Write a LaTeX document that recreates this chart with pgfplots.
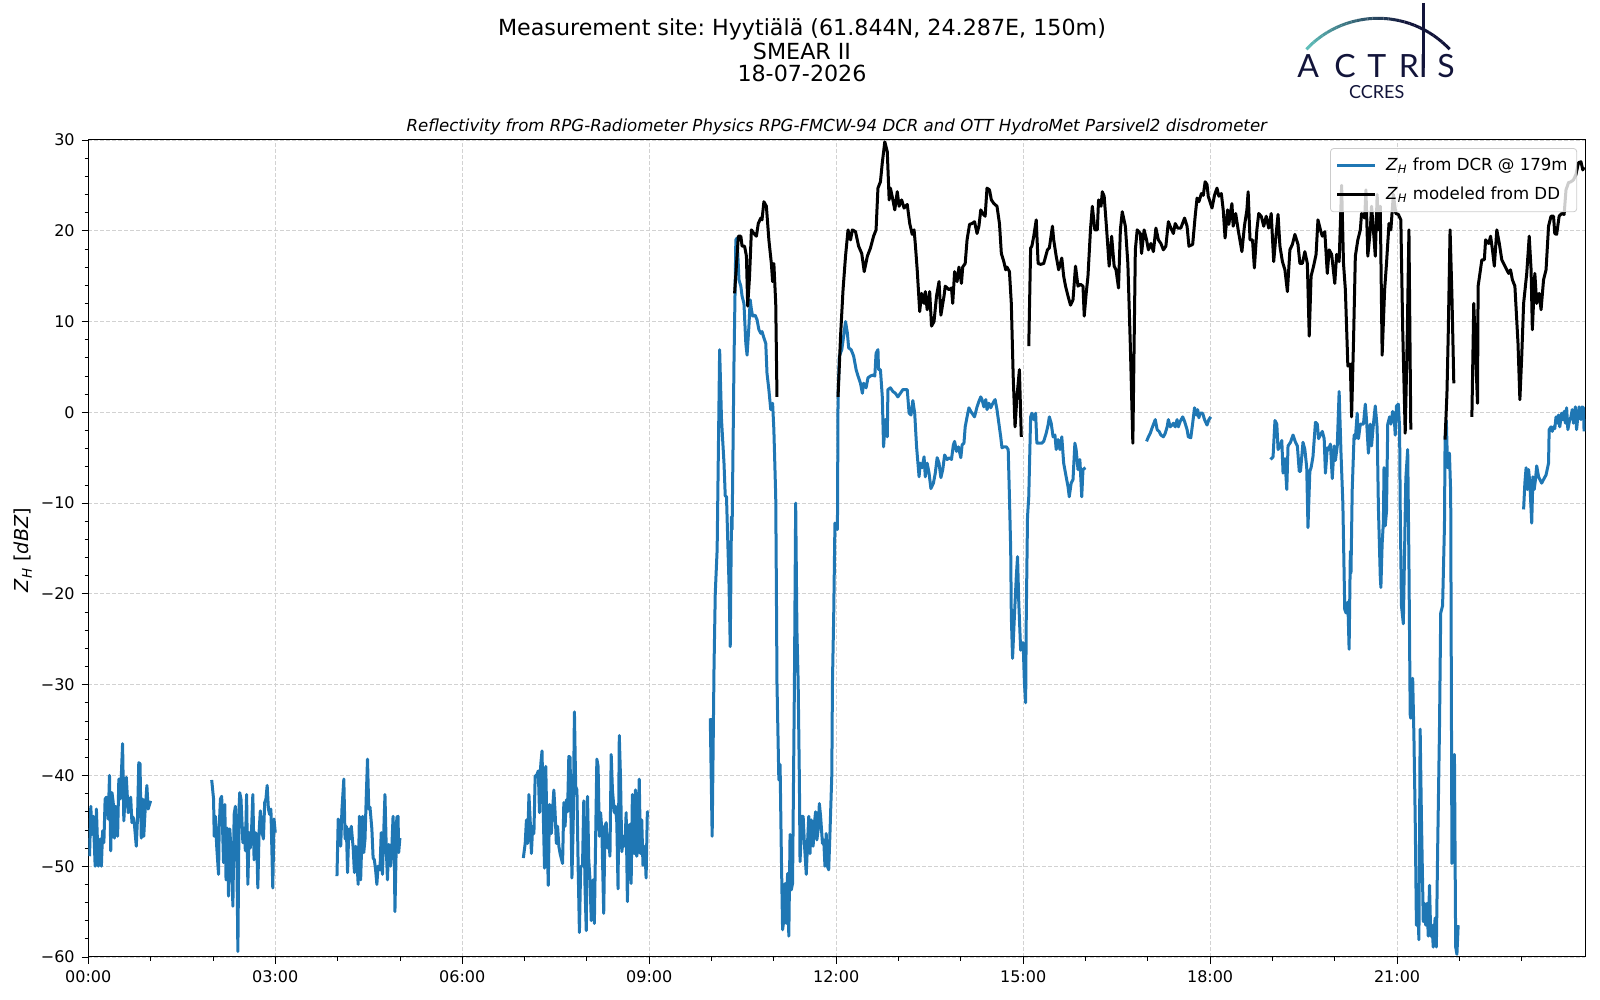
\documentclass[border=0pt]{standalone}
\usepackage{fontspec}
\setmainfont{DejaVu Sans}
\newfontfamily\logofont{Lato}
\usepackage{pgfplots}
\pgfplotsset{compat=1.18}
\definecolor{tabblue}{HTML}{1F77B4}
\definecolor{logonavy}{RGB}{18,20,58}
\definecolor{logoteal}{RGB}{95,190,185}
\newcommand{\ZH}{\textit{Z}\textsubscript{\textit{H}}}
\frenchspacing

\pgfplotstableread{
x y
0.02 -48.9
0.04 -43.4
0.06 -46.5
0.08 -44.5
0.11 -50.0
0.13 -43.7
0.16 -50.0
0.19 -47.0
0.21 -50.0
0.23 -46.1
0.25 -47.4
0.27 -42.6
0.29 -42.4
0.32 -44.8
0.34 -40.0
0.36 -48.3
0.38 -41.9
0.40 -43.0
0.42 -46.9
0.44 -43.4
0.47 -46.7
0.49 -40.4
0.51 -42.6
0.53 -40.0
0.55 -36.5
0.57 -45.0
0.59 -42.3
0.61 -40.2
0.64 -44.1
0.66 -43.7
0.68 -42.4
0.70 -45.2
0.72 -44.6
0.74 -45.4
0.77 -47.8
0.79 -44.6
0.81 -38.6
0.83 -38.7
0.85 -46.9
0.87 -42.6
0.89 -46.7
0.91 -44.1
0.94 -41.1
0.96 -43.7
1.00 -42.8
1.01 nan
1.98 -40.5
2.01 -42.6
2.02 -46.7
2.04 -44.5
2.06 -47.8
2.09 -50.9
2.10 -45.8
2.12 -42.6
2.14 -42.3
2.17 -49.6
2.19 -43.2
2.21 -51.5
2.23 -45.8
2.25 -53.3
2.27 -45.9
2.30 -49.3
2.32 -54.4
2.34 -44.3
2.36 -43.4
2.38 -46.3
2.40 -59.4
2.42 -43.4
2.43 -41.9
2.45 -42.6
2.48 -47.4
2.50 -45.8
2.52 -48.3
2.54 -42.1
2.56 -52.0
2.58 -46.3
2.60 -48.0
2.62 -45.9
2.64 -42.1
2.66 -49.3
2.68 -46.3
2.70 -46.5
2.72 -52.4
2.74 -46.3
2.76 -43.9
2.79 -46.3
2.81 -47.0
2.83 -43.0
2.85 -42.6
2.87 -41.1
2.89 -43.7
2.91 -44.3
2.93 -43.7
2.96 -52.4
2.98 -44.8
3.00 -46.3
3.01 nan
3.99 -51.1
4.01 -44.8
4.03 -45.6
4.05 -47.8
4.07 -43.7
4.10 -40.4
4.12 -47.0
4.14 -45.6
4.16 -50.7
4.18 -45.9
4.20 -47.0
4.22 -45.6
4.25 -48.0
4.27 -50.7
4.29 -47.8
4.31 -49.3
4.33 -52.0
4.35 -44.5
4.37 -51.5
4.40 -44.5
4.42 -48.5
4.44 -47.0
4.46 -42.3
4.48 -38.2
4.50 -43.7
4.52 -43.5
4.55 -45.9
4.57 -49.1
4.59 -49.3
4.61 -50.4
4.63 -52.0
4.65 -50.0
4.68 -50.4
4.70 -46.3
4.72 -50.9
4.74 -46.3
4.76 -42.1
4.78 -47.8
4.80 -51.5
4.82 -47.6
4.85 -50.0
4.87 -48.0
4.89 -44.5
4.91 -48.5
4.92 -55.0
4.95 -44.6
4.97 -44.5
4.98 -48.5
5.00 -46.9
5.01 nan
6.98 -49.1
7.01 -47.5
7.03 -44.9
7.05 -47.5
7.07 -42.1
7.09 -44.9
7.11 -48.6
7.13 -45.6
7.15 -46.4
7.17 -40.1
7.20 -39.9
7.22 -39.5
7.24 -44.1
7.26 -38.8
7.28 -37.3
7.30 -44.1
7.32 -50.2
7.34 -39.0
7.36 -46.0
7.38 -52.1
7.40 -43.2
7.43 -46.4
7.45 -43.8
7.47 -41.6
7.49 -44.1
7.51 -47.5
7.53 -45.6
7.55 -47.8
7.57 -48.6
7.61 -49.7
7.63 -43.0
7.65 -45.6
7.67 -42.7
7.69 -44.0
7.71 -37.9
7.73 -38.0
7.76 -51.3
7.78 -45.6
7.80 -33.0
7.82 -41.2
7.84 -41.6
7.86 -50.1
7.88 -57.3
7.90 -50.1
7.93 -49.9
7.95 -42.8
7.97 -52.3
7.99 -57.1
8.01 -42.3
8.03 -49.3
8.05 -51.5
8.07 -56.0
8.10 -51.5
8.12 -56.3
8.14 -47.1
8.16 -38.2
8.18 -39.0
8.20 -46.7
8.22 -44.1
8.24 -46.0
8.27 -55.2
8.29 -45.6
8.31 -45.2
8.33 -48.0
8.35 -46.7
8.37 -48.9
8.39 -37.7
8.41 -41.6
8.44 -44.1
8.46 -43.4
8.48 -45.2
8.50 -52.5
8.52 -35.6
8.54 -40.4
8.56 -48.4
8.59 -46.7
8.61 -47.8
8.63 -44.1
8.65 -53.9
8.67 -45.6
8.69 -45.4
8.71 -51.9
8.73 -42.1
8.76 -48.6
8.78 -41.6
8.80 -48.9
8.82 -47.8
8.84 -40.4
8.86 -48.6
8.88 -44.9
8.90 -49.9
8.93 -47.8
8.95 -51.3
8.97 -44.0
8.99 -44.0
9.00 nan
9.98 -33.7
10.01 -46.7
10.04 -28.0
10.06 -19.9
10.09 -15.1
10.13 6.9
10.16 -0.8
10.20 -5.6
10.22 -9.2
10.24 -9.3
10.28 -18.8
10.30 -25.8
10.32 -11.5
10.33 -12.9
10.36 5.4
10.39 19.0
10.41 19.2
10.44 14.6
10.47 13.9
10.49 12.8
10.52 12.0
10.55 7.6
10.57 6.3
10.60 9.5
10.62 12.4
10.64 11.3
10.66 10.6
10.70 10.7
10.73 10.2
10.76 9.1
10.79 8.7
10.81 8.9
10.84 8.2
10.87 7.6
10.89 4.3
10.92 2.5
10.95 0.3
10.98 1.0
11.00 -1.9
11.03 -9.3
11.04 -18.8
11.05 -29.8
11.08 -40.5
11.10 -38.8
11.12 -48.6
11.14 -57.0
11.16 -55.9
11.18 -51.9
11.20 -56.3
11.22 -50.8
11.24 -57.7
11.26 -46.5
11.28 -52.6
11.30 -51.9
11.33 -29.8
11.35 -10.0
11.37 -24.0
11.39 -29.8
11.41 -40.8
11.42 -49.5
11.45 -44.5
11.47 -44.5
11.49 -47.5
11.52 -50.9
11.54 -47.5
11.56 -44.5
11.58 -48.6
11.60 -44.9
11.63 -47.8
11.65 -45.3
11.67 -44.0
11.69 -47.1
11.71 -46.0
11.73 -43.1
11.75 -44.5
11.78 -47.5
11.80 -47.1
11.82 -50.0
11.84 -46.4
11.86 -50.0
11.88 -50.4
11.90 -46.4
11.93 -39.9
11.94 -29.8
11.96 -22.5
11.98 -12.2
12.00 -12.6
12.02 -12.9
12.03 1.7
12.05 6.2
12.09 6.9
12.12 8.4
12.15 10.0
12.18 8.7
12.20 7.1
12.24 6.9
12.28 6.2
12.32 4.7
12.35 4.0
12.39 3.2
12.42 2.1
12.44 3.2
12.48 2.7
12.51 3.8
12.55 4.0
12.59 4.1
12.62 4.0
12.64 6.5
12.67 6.9
12.68 4.7
12.71 4.7
12.74 1.7
12.76 -3.8
12.79 -0.8
12.82 -2.7
12.83 2.5
12.87 2.7
12.91 2.3
12.95 2.1
12.99 1.7
13.03 2.1
13.07 2.5
13.11 2.5
13.14 2.5
13.17 -0.1
13.20 -0.3
13.23 1.3
13.26 -0.1
13.29 -3.8
13.33 -7.1
13.35 -5.6
13.38 -6.1
13.41 -4.9
13.43 -7.1
13.46 -5.6
13.49 -6.7
13.52 -8.4
13.56 -7.8
13.59 -6.7
13.62 -5.0
13.65 -5.6
13.68 -7.2
13.71 -6.3
13.74 -4.7
13.78 -5.2
13.82 -5.0
13.85 -5.2
13.88 -3.6
13.90 -3.2
13.93 -4.3
13.96 -3.8
14.00 -5.0
14.02 -3.6
14.05 -3.4
14.07 -1.6
14.10 -0.5
14.13 0.5
14.16 0.1
14.18 -0.1
14.22 -0.5
14.26 0.6
14.29 1.2
14.32 1.7
14.34 1.4
14.37 0.6
14.40 1.4
14.42 0.3
14.45 1.0
14.48 0.5
14.50 0.8
14.53 1.2
14.55 1.4
14.58 0.3
14.61 -1.2
14.64 -2.7
14.66 -3.9
14.69 -3.8
14.73 -3.8
14.76 -4.1
14.78 -9.3
14.80 -15.1
14.81 -22.4
14.83 -27.1
14.86 -22.4
14.89 -18.1
14.91 -15.9
14.93 -21.0
14.96 -26.2
14.97 -25.4
15.00 -25.4
15.02 -29.8
15.04 -32.0
15.05 -22.5
15.07 -11.5
15.09 -9.3
15.12 -0.5
15.14 -0.1
15.17 -0.8
15.20 -0.1
15.22 -3.4
15.25 -3.4
15.30 -3.4
15.33 -3.2
15.37 -2.3
15.40 -1.4
15.42 -0.5
15.45 -1.2
15.48 -2.7
15.51 -2.5
15.53 -4.1
15.56 -3.0
15.59 -4.1
15.62 -2.7
15.65 -5.6
15.69 -7.1
15.72 -8.2
15.74 -9.3
15.77 -7.8
15.80 -7.4
15.83 -3.4
15.85 -4.1
15.88 -6.3
15.91 -5.2
15.94 -9.3
15.96 -6.3
16.00 -6.1
16.01 nan
16.98 -3.2
17.01 -2.7
17.04 -2.3
17.07 -1.7
17.12 -0.8
17.15 -1.9
17.18 -2.1
17.21 -2.5
17.25 -2.7
17.28 -2.3
17.31 -1.6
17.33 -0.8
17.36 -1.6
17.39 -1.4
17.41 -1.2
17.44 -1.6
17.47 -0.8
17.49 -1.6
17.52 -1.0
17.56 -0.5
17.59 -1.0
17.63 -1.9
17.65 -2.7
17.69 -2.8
17.72 -1.2
17.75 0.5
17.78 -0.3
17.80 0.3
17.82 -0.6
17.84 -0.1
17.88 -0.1
17.91 -0.8
17.95 -1.4
17.98 -0.8
18.01 -0.5
18.02 nan
18.97 -5.2
19.01 -4.9
19.04 -0.9
19.07 -1.3
19.09 -4.1
19.12 -3.7
19.15 -3.1
19.17 -6.7
19.20 -5.1
19.23 -8.5
19.25 -3.7
19.29 -3.3
19.33 -2.5
19.37 -3.3
19.40 -3.7
19.43 -6.5
19.45 -6.5
19.49 -3.3
19.52 -4.1
19.55 -6.1
19.57 -12.7
19.60 -6.5
19.62 -6.1
19.65 -4.9
19.69 -1.1
19.72 -1.3
19.74 -2.9
19.77 -2.5
19.80 -2.1
19.83 -2.9
19.85 -6.7
19.88 -3.9
19.90 -4.1
19.93 -3.5
19.96 -7.3
19.99 -3.7
20.01 -5.3
20.04 -3.7
20.07 2.3
20.10 -4.5
20.13 -10.1
20.16 -21.7
20.18 -22.1
20.21 -20.9
20.23 -26.1
20.25 -15.3
20.26 -17.7
20.28 -8.5
20.31 -2.5
20.33 -2.9
20.36 -0.1
20.38 -2.9
20.41 -1.3
20.43 -1.3
20.46 -1.3
20.49 0.9
20.51 -0.9
20.54 -4.5
20.57 -1.3
20.59 -3.7
20.62 -1.3
20.65 0.7
20.68 -1.7
20.70 -10.5
20.73 -18.1
20.74 -19.3
20.76 -14.5
20.78 -12.1
20.79 -6.1
20.81 -12.5
20.83 -10.9
20.85 -1.3
20.88 -0.5
20.90 -1.3
20.93 0.1
20.96 -1.3
20.97 -2.5
20.99 0.7
21.02 0.9
21.04 -1.7
21.05 -10.5
21.07 -21.3
21.10 -23.3
21.12 -15.3
21.14 -7.3
21.17 -4.1
21.19 -16.5
21.21 -33.3
21.22 -33.7
21.25 -29.3
21.27 -35.7
21.29 -44.5
21.31 -56.5
21.33 -54.1
21.35 -58.1
21.37 -34.9
21.39 -44.5
21.42 -56.1
21.44 -54.1
21.46 -56.5
21.48 -54.1
21.50 -57.7
21.52 -52.1
21.54 -57.7
21.56 -56.5
21.58 -58.9
21.61 -55.7
21.63 -58.9
21.65 -48.5
21.68 -34.9
21.70 -22.1
21.73 -21.3
21.76 -12.5
21.77 -2.9
21.79 -0.9
21.81 -6.1
21.84 -4.5
21.86 -8.9
21.88 -49.7
21.90 -38.1
21.92 -37.7
21.94 -58.9
21.96 -59.7
21.98 -56.5
21.99 nan
23.03 -10.7
23.05 -7.8
23.07 -6.1
23.09 -8.5
23.11 -6.3
23.13 -7.8
23.16 -12.2
23.18 -7.1
23.20 -8.5
23.22 -7.4
23.24 -5.9
23.27 -7.1
23.29 -7.4
23.32 -7.8
23.35 -7.4
23.39 -6.9
23.43 -5.6
23.44 -1.9
23.47 -1.6
23.49 -2.1
23.51 -1.6
23.53 -1.8
23.55 -0.5
23.57 -1.2
23.59 -0.3
23.61 -1.6
23.64 -0.1
23.66 -0.8
23.68 0.1
23.70 -1.2
23.72 0.5
23.74 -1.9
23.77 -0.8
23.79 -0.5
23.81 0.3
23.83 -1.2
23.86 0.6
23.88 -1.9
23.90 -0.5
23.92 0.6
23.95 -0.8
23.97 0.6
23.99 0.5
24.00 -2.1
}\dcr

\pgfplotstableread{
x y
10.37 13.1
10.43 19.4
10.47 19.4
10.49 18.3
10.53 18.3
10.56 17.2
10.58 11.7
10.61 15.0
10.64 20.1
10.68 19.7
10.72 19.4
10.75 20.8
10.79 21.4
10.81 21.2
10.84 23.2
10.88 22.7
10.92 19.0
10.96 16.4
10.98 14.4
11.00 16.4
11.03 12.0
11.05 1.7
11.06 nan
12.03 1.7
12.07 8.4
12.11 13.5
12.15 17.2
12.19 20.1
12.23 19.0
12.26 20.1
12.31 19.9
12.36 18.3
12.41 17.5
12.45 15.5
12.50 17.2
12.55 18.1
12.60 19.4
12.64 20.1
12.67 24.7
12.71 25.4
12.74 27.5
12.78 29.8
12.82 28.7
12.85 23.4
12.87 24.7
12.91 23.4
12.94 22.3
12.98 24.3
13.01 22.7
13.05 23.4
13.09 22.5
13.14 22.9
13.18 20.8
13.22 19.6
13.25 20.1
13.27 18.5
13.30 15.7
13.34 11.1
13.37 13.1
13.41 12.0
13.43 13.3
13.46 11.3
13.50 13.3
13.53 9.5
13.57 10.0
13.61 12.8
13.65 14.4
13.68 10.7
13.73 12.8
13.75 13.9
13.81 13.5
13.85 13.7
13.87 12.0
13.90 15.5
13.94 14.4
13.97 16.0
14.01 14.2
14.03 16.0
14.07 16.4
14.10 19.0
14.14 20.7
14.18 20.8
14.22 21.0
14.26 19.7
14.29 20.5
14.32 22.3
14.35 21.9
14.39 21.6
14.42 24.7
14.46 24.5
14.49 23.4
14.53 23.0
14.58 22.7
14.62 20.8
14.65 17.5
14.69 16.6
14.72 15.7
14.74 16.0
14.78 15.5
14.81 12.0
14.84 4.0
14.87 -1.6
14.90 1.7
14.94 4.7
14.97 -2.7
14.98 nan
15.09 7.3
15.12 18.1
15.14 18.3
15.17 19.4
15.21 21.2
15.24 16.4
15.28 16.3
15.33 16.4
15.39 17.9
15.42 18.1
15.47 20.5
15.49 19.0
15.53 17.2
15.57 15.7
15.62 17.0
15.65 15.0
15.68 13.9
15.72 12.8
15.76 11.8
15.80 12.4
15.84 16.1
15.88 13.9
15.92 14.1
15.96 13.9
15.98 10.6
16.01 13.0
16.04 15.0
16.08 20.1
16.11 22.7
16.15 20.1
16.19 20.1
16.21 23.4
16.25 22.7
16.27 24.3
16.30 23.8
16.34 20.1
16.38 16.1
16.42 19.4
16.46 16.1
16.49 15.7
16.53 13.7
16.56 20.1
16.59 22.1
16.64 20.5
16.68 16.4
16.72 7.3
16.76 -3.4
16.80 17.9
16.83 20.1
16.88 19.7
16.90 17.5
16.94 20.1
16.98 19.0
17.01 17.9
17.05 18.6
17.09 17.7
17.13 20.3
17.17 19.0
17.21 18.6
17.25 17.9
17.29 18.3
17.33 21.0
17.37 20.3
17.41 19.7
17.44 20.8
17.48 20.3
17.53 20.3
17.59 21.4
17.63 20.5
17.66 18.3
17.72 18.5
17.76 21.6
17.79 23.6
17.82 23.2
17.86 24.1
17.89 23.9
17.92 25.4
17.95 25.1
17.97 23.8
18.03 22.5
18.07 23.9
18.11 24.7
18.14 23.8
18.18 24.1
18.21 22.3
18.24 19.2
18.28 22.3
18.30 20.7
18.35 23.0
18.37 20.5
18.41 21.9
18.45 20.1
18.51 17.7
18.55 20.5
18.59 22.3
18.61 24.3
18.64 19.0
18.68 19.0
18.71 15.9
18.75 20.1
18.78 21.9
18.82 21.6
18.86 20.5
18.90 21.6
18.94 20.3
18.98 21.9
19.02 16.6
19.05 19.0
19.09 21.8
19.12 18.3
19.16 16.6
19.20 15.7
19.24 13.3
19.28 17.9
19.32 18.5
19.36 19.6
19.41 18.5
19.44 16.4
19.48 16.4
19.52 17.7
19.56 16.4
19.59 8.4
19.62 15.0
19.66 16.1
19.70 17.4
19.73 21.2
19.77 20.1
19.80 19.4
19.84 19.9
19.88 15.3
19.91 17.9
19.95 17.4
20.00 14.2
20.03 17.4
20.07 16.6
20.11 25.0
20.14 16.4
20.17 13.5
20.21 5.1
20.25 5.3
20.27 -0.5
20.30 7.6
20.33 17.2
20.37 19.0
20.41 20.1
20.43 21.9
20.48 21.4
20.50 24.5
20.53 17.2
20.57 20.1
20.59 22.7
20.62 20.1
20.65 17.2
20.68 24.0
20.70 20.1
20.73 22.7
20.76 6.3
20.80 13.5
20.83 16.4
20.87 20.8
20.90 20.1
20.94 24.0
20.98 21.9
21.02 21.8
21.06 21.2
21.09 9.1
21.13 -2.3
21.16 7.3
21.19 20.1
21.22 -1.9
21.23 nan
21.77 -3.0
21.80 2.1
21.82 8.4
21.85 20.1
21.88 12.8
21.91 3.2
21.92 nan
22.20 -0.5
22.23 12.0
22.25 8.4
22.29 1.0
22.30 13.9
22.36 16.8
22.40 16.8
22.42 19.0
22.47 18.6
22.50 19.4
22.53 17.9
22.56 16.1
22.60 20.1
22.64 18.6
22.68 16.8
22.73 16.1
22.79 15.3
22.82 15.7
22.85 14.6
22.89 13.9
22.94 7.6
22.97 1.4
23.00 6.2
23.03 12.0
23.08 15.3
23.12 19.4
23.15 15.7
23.17 9.1
23.21 15.3
23.24 12.0
23.28 13.1
23.31 11.3
23.35 14.6
23.39 15.7
23.43 20.5
23.47 21.6
23.51 21.6
23.53 19.7
23.56 19.6
23.60 21.6
23.64 21.9
23.68 21.8
23.71 24.5
23.75 25.3
23.79 25.4
23.83 25.6
23.87 26.2
23.91 27.5
23.95 27.6
23.98 26.7
24.00 27.0
}\dd

\begin{document}
\begin{tikzpicture}
\begin{axis}[
  at={(44.15pt,21.5pt)}, anchor=south west,
  scale only axis, width=748.5pt, height=408.5pt,
  xmin=0, xmax=24.02, ymin=-60, ymax=30,
  xtick={0,3,6,9,12,15,18,21},
  xticklabels={00:00,03:00,06:00,09:00,12:00,15:00,18:00,21:00},
  minor xtick={1,2,4,5,7,8,10,11,13,14,16,17,19,20,22,23},
  ytick={-60,-50,-40,-30,-20,-10,0,10,20,30},
  yticklabels={−60,−50,−40,−30,−20,−10,0,10,20,30},
  minor ytick={-58,-56,...,28},
  tick align=outside, tick pos=left,
  major tick length=3.3pt, minor tick length=1.8pt,
  every tick/.style={black, line width=0.4pt},
  ticklabel style={font=\fontsize{8}{9.6}\selectfont},
  axis line style={line width=0.5pt},
  xmajorgrids, ymajorgrids,
  major grid style={dash pattern=on 2pt off 1pt, gray!35, line width=0.4pt},
  unbounded coords=jump,
  legend cell align=left,
  legend image code/.code={\draw[#1] (0pt,0pt) -- (18.8pt,0pt);},
  legend style={at={(0.9945,0.99)}, anchor=north east,
    draw=gray!40, fill=white, fill opacity=0.8, text opacity=1,
    rounded corners=1.5pt, font=\fontsize{8.3}{10}\selectfont,
    inner xsep=2.5pt, inner ysep=2.5pt, row sep=3pt,
    /tikz/every odd column/.append style={column sep=3pt}},
]
\addplot[tabblue, line width=1.5pt, line join=round] table[x=x,y=y] {\dcr};
\addlegendentry{\ZH\ from DCR @ 179m}
\addplot[black, line width=1.5pt, line join=round] table[x=x,y=y] {\dd};
\addlegendentry{\ZH\ modeled from DD}
\end{axis}

% titles
\node[anchor=base, font=\fontsize{11.1}{12}\selectfont] at (401pt,482pt) {Measurement site: Hyytiälä (61.844N, 24.287E, 150m)};
\node[anchor=base, font=\fontsize{11.1}{12}\selectfont] at (401pt,470.35pt) {SMEAR II};
\node[anchor=base, font=\fontsize{11.1}{12}\selectfont] at (401pt,459.15pt) {18-07-2026};
\node[anchor=base, font=\fontsize{8.3}{10}\selectfont\itshape] at (418.4pt,434.15pt) {Reflectivity from RPG-Radiometer Physics RPG-FMCW-94 DCR and OTT HydroMet Parsivel2 disdrometer};
\node[rotate=90, font=\fontsize{9.6}{11}\selectfont] at (11.5pt,225pt) {\ZH\ [\textit{dBZ}]};

% logo
\foreach \i in {0,...,29} {
  \pgfmathsetmacro{\a}{136.8 - \i*3.12}
  \pgfmathsetmacro{\b}{136.8 - (\i+1)*3.12}
  \pgfmathsetmacro{\m}{max(0,100-\i*5)}
  \draw[line width=1.5pt, color=logoteal!\m!logonavy] ([shift={(\a:49.15pt)}]689pt,441.7pt) arc[start angle=\a, end angle=\b, radius=49.15pt];
}
\draw[line width=1.4pt, logonavy] (711.65pt,498.5pt) -- (711.65pt,466pt);
\begin{scope}[every node/.style={anchor=base, inner sep=0pt, text=logonavy, font=\logofont\fontsize{16}{16}\selectfont}]
\node at (654.15pt,461.35pt) {A};
\node at (672.5pt,461.35pt) {C};
\node at (688.35pt,461.35pt) {T};
\node at (704.5pt,461.35pt) {R};
\node at (711.65pt,461.35pt) {I};
\node at (723pt,461.35pt) {S};
\end{scope}
\node[anchor=base, inner sep=0pt, text=logonavy, font=\logofont\fontsize{9}{9}\selectfont] at (688.35pt,450.85pt) {CCRES};

\pgfresetboundingbox
\path[use as bounding box] (0,0) rectangle (800pt,500pt);
\end{tikzpicture}
\end{document}
